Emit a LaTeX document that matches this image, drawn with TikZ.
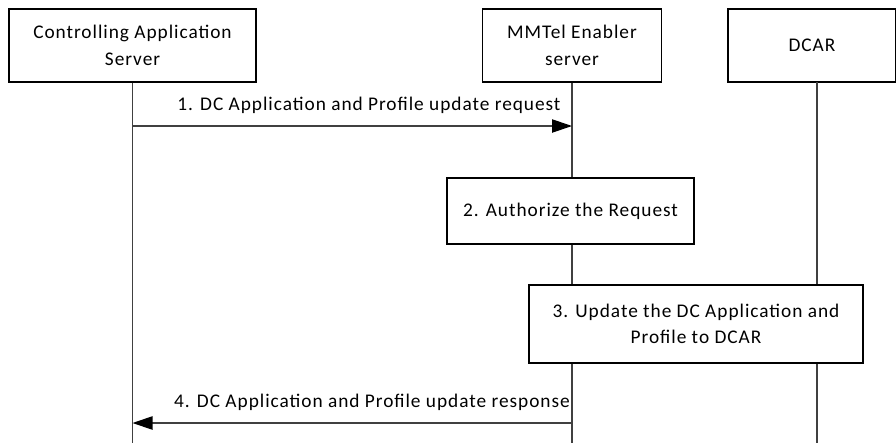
\documentclass[tikz,border=0pt]{standalone}
\usepackage{fontspec}
\setmainfont{Carlito}[LetterSpace=5]
\usetikzlibrary{arrows.meta}
\tikzset{
  entity/.style={draw=black,line width=0.9pt,align=center,inner sep=0pt,font=\fontsize{14.5}{20}\selectfont},
  stepbox/.style={draw=black,line width=0.9pt,align=center,inner sep=0pt,font=\fontsize{14.5}{20}\selectfont},
  life/.style={draw=black!75,line width=0.9pt},
  msg/.style={draw=black!75,line width=0.9pt,-{Triangle[length=15pt,width=10pt,color=black]}},
  msglabel/.style={inner sep=0pt,font=\fontsize{14.5}{20}\selectfont}
}
\begin{document}
\begin{tikzpicture}[x=0.75pt,y=-0.75pt]
\useasboundingbox (0,0) rectangle (896,443);
%---------------------------------------------------
\node[entity,minimum width=247*0.75pt,minimum height=73*0.75pt] (cas) at (132.5,45.5) {Controlling Application\\Server};
\node[entity,minimum width=179*0.75pt,minimum height=73*0.75pt] (mmtel) at (572,45.5) {MMTel Enabler\\server};
\node[entity,minimum width=168*0.75pt,minimum height=73*0.75pt] (dcar) at (812,45.5) {DCAR};
%---------------------------------------------------
\node[stepbox,minimum width=247*0.75pt,minimum height=66*0.75pt] (auth) at (570.5,211) {2. Authorize the Request};
\node[stepbox,minimum width=334*0.75pt,minimum height=78*0.75pt] (upd) at (696,324) {3. Update the DC Application and\\Profile to DCAR};
%---------------------------------------------------
\coordinate (casend) at (cas.south |- 0,443);
\coordinate (mmend) at (mmtel.south |- 0,443);
\coordinate (dcarline) at (817,82);
\coordinate (dcarend) at (817,443);
\draw[life] (cas.south) -- (casend);
\draw[life] (mmtel.south) -- (mmtel.south |- auth.north);
\draw[life] (mmtel.south |- auth.south) -- (mmtel.south |- upd.north);
\draw[life] (mmtel.south |- upd.south) -- (mmend);
\draw[life] (dcarline) -- (dcarline |- upd.north);
\draw[life] (dcarline |- upd.south) -- (dcarend);
%---------------------------------------------------
\coordinate (req) at (cas.south |- 0,126);
\coordinate (resp) at (mmtel.south |- 0,423);
\draw[msg] (req) -- (req -| mmtel.south);
\draw[msg] (resp) -- (resp -| cas.south);
\node[msglabel] (reqtext) at (369,105) {1. DC Application and Profile update request};
\node[msglabel] (resptext) at (372,402) {4. DC Application and Profile update response};
\end{tikzpicture}
\end{document}
